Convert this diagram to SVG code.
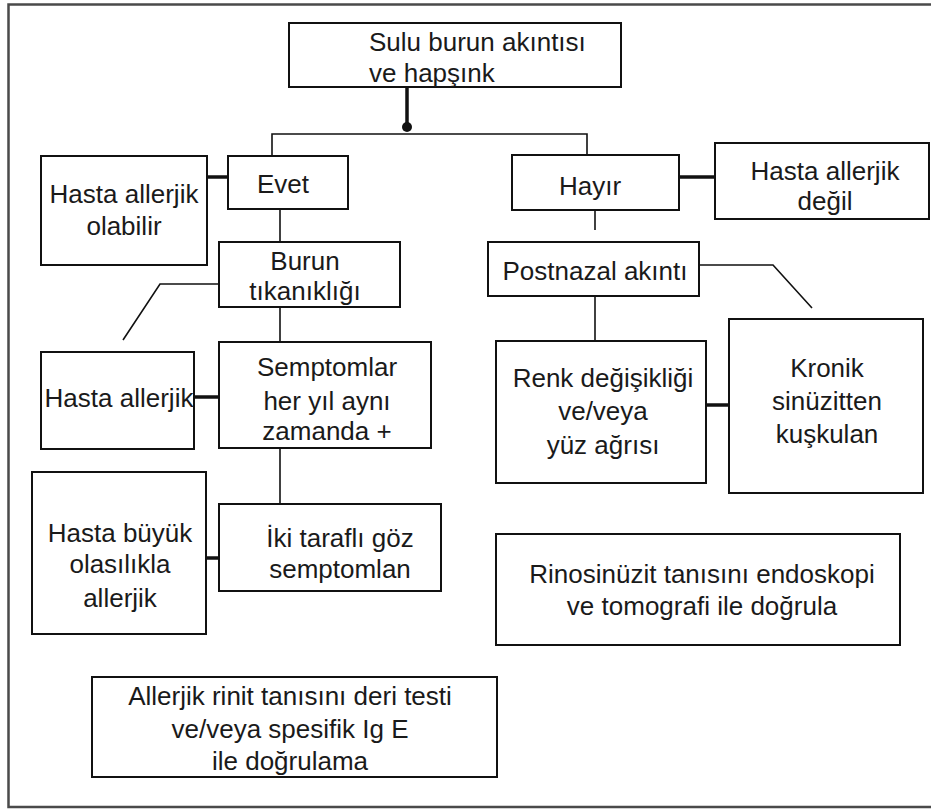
<svg xmlns="http://www.w3.org/2000/svg" width="931" height="809" viewBox="0 0 931 809">
<style>
.box{fill:#fff;stroke:#111;stroke-width:2}
.t{font-family:"Liberation Sans",Arial,sans-serif;font-size:26px;fill:#1a1a1a;text-anchor:middle}
.ts{text-anchor:start}
.c{fill:none;stroke:#111;stroke-width:1.6}
.k{fill:none;stroke:#111;stroke-width:3.5}
.frame{fill:none;stroke:#4a4a4a;stroke-width:2.5}
</style>
<rect width="931" height="809" fill="#fff"/>
<path class="frame" d="M931,4.5 H8.5 V807 H931"/>
<g id="connectors">
<path class="k" d="M407,87 V126"/>
<circle cx="407" cy="127" r="5" fill="#111"/>
<path class="c" d="M272,156 V134 H587 V155"/>
<path class="k" d="M207,177 H228"/>
<path class="k" d="M679,177 H715"/>
<path class="c" d="M280,209 V242"/>
<path class="c" d="M595,210 V230"/>
<path class="c" d="M219,284 H160 L123,340"/>
<path class="c" d="M699,265 H773 L812,308"/>
<path class="c" d="M280,307 V342"/>
<path class="c" d="M595,296 V341"/>
<path class="k" d="M194,397 H219"/>
<path class="k" d="M706,405 H729"/>
<path class="c" d="M280,448 V504"/>
<path class="k" d="M245,558 H204"/>
<circle cx="202" cy="558" r="4.5" fill="#111"/>
</g>
<g id="n-sulu">
<rect class="box" x="289" y="23" width="332" height="64"/>
<text class="t ts" x="369" y="51">Sulu burun akıntısı</text>
<text class="t ts" x="369" y="82">ve hapşınk</text>
</g>
<g id="n-olabilir">
<rect class="box" x="41" y="156" width="166" height="109"/>
<text class="t" x="124" y="203">Hasta allerjik</text>
<text class="t" x="124" y="235">olabilir</text>
</g>
<g id="n-evet">
<rect class="box" x="228" y="156" width="120" height="53"/>
<text class="t" x="283" y="193">Evet</text>
</g>
<g id="n-hayir">
<rect class="box" x="512" y="155" width="167" height="55"/>
<text class="t" x="590" y="195">Hayır</text>
</g>
<g id="n-degil">
<rect class="box" x="715" y="143" width="214" height="76"/>
<text class="t" x="825" y="180">Hasta allerjik</text>
<text class="t" x="825" y="210">değil</text>
</g>
<g id="n-burun">
<rect class="box" x="219" y="242" width="181" height="65"/>
<text class="t" x="305" y="270">Burun</text>
<text class="t" x="305" y="300">tıkanıklığı</text>
</g>
<g id="n-postnazal">
<rect class="box" x="488" y="242" width="211" height="54"/>
<text class="t" x="595" y="280">Postnazal akıntı</text>
</g>
<g id="n-allerjik">
<rect class="box" x="41" y="352" width="153" height="97"/>
<text class="t" x="119" y="407">Hasta allerjik</text>
</g>
<g id="n-semptomlar">
<rect class="box" x="219" y="342" width="212" height="106"/>
<text class="t" x="327" y="376">Semptomlar</text>
<text class="t" x="327" y="410">her yıl aynı</text>
<text class="t" x="327" y="440">zamanda +</text>
</g>
<g id="n-renk">
<rect class="box" x="496" y="341" width="210" height="142"/>
<text class="t" x="603" y="387">Renk değişikliği</text>
<text class="t" x="603" y="420">ve/veya</text>
<text class="t" x="603" y="454">yüz ağrısı</text>
</g>
<g id="n-kronik">
<rect class="box" x="729" y="319" width="194" height="174"/>
<text class="t" x="827" y="377">Kronik</text>
<text class="t" x="827" y="410">sinüzitten</text>
<text class="t" x="827" y="443">kuşkulan</text>
</g>
<g id="n-buyuk">
<rect class="box" x="32" y="472" width="174" height="162"/>
<text class="t" x="120" y="542">Hasta büyük</text>
<text class="t" x="120" y="573">olasılıkla</text>
<text class="t" x="120" y="607">allerjik</text>
</g>
<g id="n-goz">
<rect class="box" x="219" y="504" width="222" height="87"/>
<text class="t" x="340" y="547">İki taraflı göz</text>
<text class="t" x="340" y="578">semptomlan</text>
</g>
<g id="n-rinosinuzit">
<rect class="box" x="496" y="534" width="404" height="111"/>
<text class="t" x="702" y="583">Rinosinüzit tanısını endoskopi</text>
<text class="t" x="702" y="615">ve tomografi ile doğrula</text>
</g>
<g id="n-rinit">
<rect class="box" x="92" y="677" width="405" height="100"/>
<text class="t" x="290" y="705">Allerjik rinit tanısını deri testi</text>
<text class="t" x="290" y="738">ve/veya spesifik Ig E</text>
<text class="t" x="290" y="770">ile doğrulama</text>
</g>
</svg>
